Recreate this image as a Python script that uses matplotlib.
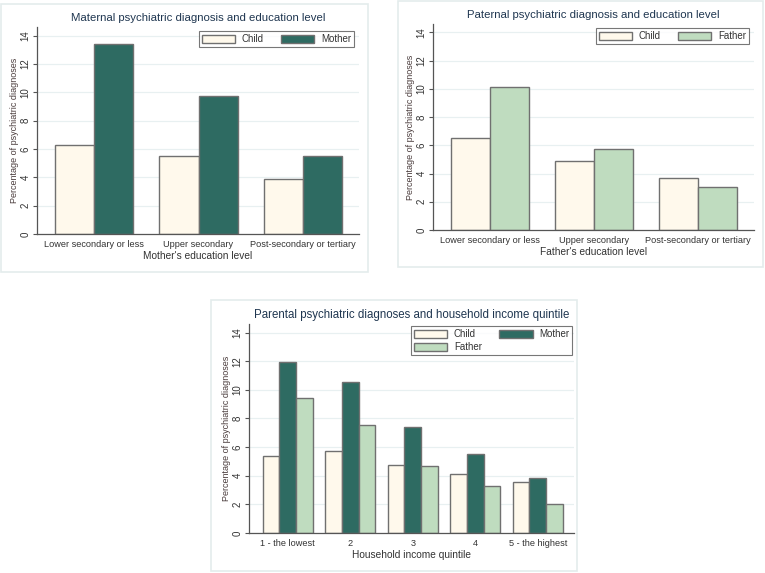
import numpy as np
import matplotlib
matplotlib.use("Agg")
import matplotlib.pyplot as plt
from matplotlib.patches import Rectangle

plt.rcParams['font.family'] = ['Liberation Sans', 'DejaVu Sans']

# data
edu_labels = ["Lower secondary or less", "Upper secondary", "Post-secondary or tertiary"]
mat_child = [6.25, 5.5, 3.85]
mat_mother = [13.4, 9.75, 5.5]
pat_child = [6.5, 4.9, 3.7]
pat_father = [10.15, 5.75, 3.05]

inc_labels = ["1 - the lowest", "2", "3", "4", "5 - the highest"]
inc_child = [5.35, 5.7, 4.75, 4.15, 3.55]
inc_mother = [11.95, 10.55, 7.4, 5.55, 3.85]
inc_father = [9.4, 7.55, 4.7, 3.3, 2.05]

c_child = "#fff9ec"
c_mother = "#2e6b62"
c_father = "#bfdcbf"
edge = "#707070"
title_col = "#1f3650"
text_col = "#333333"

W, H = 765, 573
fig = plt.figure(figsize=(W / 100, H / 100), dpi=100)


def ax_at(x0, y0, x1, y1):
    # pixel box (top-left origin) -> axes
    return fig.add_axes([x0 / W, 1 - y1 / H, (x1 - x0) / W, (y1 - y0) / H])


def panel_border(x0, y0, x1, y1):
    fig.patches.append(Rectangle((x0 / W, 1 - y1 / H), (x1 - x0) / W, (y1 - y0) / H,
                                 transform=fig.transFigure, fill=False,
                                 edgecolor="#e4ecec", lw=1.2, zorder=0))


def style(ax, title, xlabel, labels, x, tsize):
    ax.set_ylim(0, 14.6)
    ax.set_yticks(range(0, 15, 2))
    ax.yaxis.grid(True, color="#e8f0f1", lw=0.9)
    ax.set_axisbelow(True)
    for s in ["top", "right"]:
        ax.spines[s].set_visible(False)
    for s in ["left", "bottom"]:
        ax.spines[s].set_color("#555555")
        ax.spines[s].set_linewidth(0.9)
    ax.tick_params(axis="y", labelsize=7, length=3, color="#555555",
                   labelcolor=text_col, pad=1.5)
    for lab in ax.get_yticklabels():
        lab.set_rotation(90)
        lab.set_va("center")
    ax.set_xticks(x)
    ax.set_xticklabels(labels)
    ax.tick_params(axis="x", labelsize=6.6, length=0, labelcolor=text_col, pad=4)
    ax.set_ylabel("Percentage of psychiatric diagnoses", fontsize=6.5,
                  color="#4a3c3c", labelpad=1.5)
    ax.set_xlabel(xlabel, fontsize=7.3, color=text_col, labelpad=2)
    ax.set_title(title, fontsize=tsize, color=title_col, pad=4)


def legend(ax, handles, labels, anchor):
    lg = ax.legend(handles, labels, loc="upper right", bbox_to_anchor=anchor, ncol=2,
                   fontsize=7, frameon=True, fancybox=False,
                   edgecolor="#555555", handlelength=3.4, handleheight=0.9,
                   columnspacing=1.8, handletextpad=0.7, borderpad=0.3,
                   labelspacing=0.3, borderaxespad=0)
    lg.get_frame().set_linewidth(0.8)
    for t in lg.get_texts():
        t.set_color(text_col)


# panel 1: maternal
panel_border(1, 4, 368, 272)
ax1 = ax_at(37, 27, 359, 234)
x = np.arange(len(edu_labels))
bw = 0.375
b1 = ax1.bar(x - bw / 2, mat_child, bw, color=c_child, edgecolor=edge, lw=1)
b2 = ax1.bar(x + bw / 2, mat_mother, bw, color=c_mother, edgecolor=edge, lw=1)
ax1.set_xlim(-0.55, 2.54)
style(ax1, "Maternal psychiatric diagnosis and education level",
      "Mother's education level", edu_labels, x, 8.2)
legend(ax1, [b1, b2], ["Child", "Mother"], (0.985, 0.98))

# panel 2: paternal
panel_border(398, 1, 763, 267)
ax2 = ax_at(433, 24, 754, 230)
b1 = ax2.bar(x - bw / 2, pat_child, bw, color=c_child, edgecolor=edge, lw=1)
b3 = ax2.bar(x + bw / 2, pat_father, bw, color=c_father, edgecolor=edge, lw=1)
ax2.set_xlim(-0.55, 2.54)
style(ax2, "Paternal psychiatric diagnosis and education level",
      "Father's education level", edu_labels, x, 8.2)
legend(ax2, [b1, b3], ["Child", "Father"], (0.985, 0.98))

# panel 3: income
panel_border(211, 300, 577, 571)
ax3 = ax_at(249, 324, 574, 533)
xi = np.arange(len(inc_labels))
bw3 = 0.267
b1 = ax3.bar(xi - bw3, inc_child, bw3, color=c_child, edgecolor=edge, lw=1)
b2 = ax3.bar(xi, inc_mother, bw3, color=c_mother, edgecolor=edge, lw=1)
b3 = ax3.bar(xi + bw3, inc_father, bw3, color=c_father, edgecolor=edge, lw=1)
ax3.set_xlim(-0.62, 4.58)
style(ax3, "Parental psychiatric diagnoses and household income quintile",
      "Household income quintile", inc_labels, xi, 8.3)
# column-wise fill: Child/Father in col 1, Mother in col 2
legend(ax3, [b1, b3, b2], ["Child", "Father", "Mother"], (0.995, 0.99))

fig.savefig("out.png", dpi=100, facecolor="white")
